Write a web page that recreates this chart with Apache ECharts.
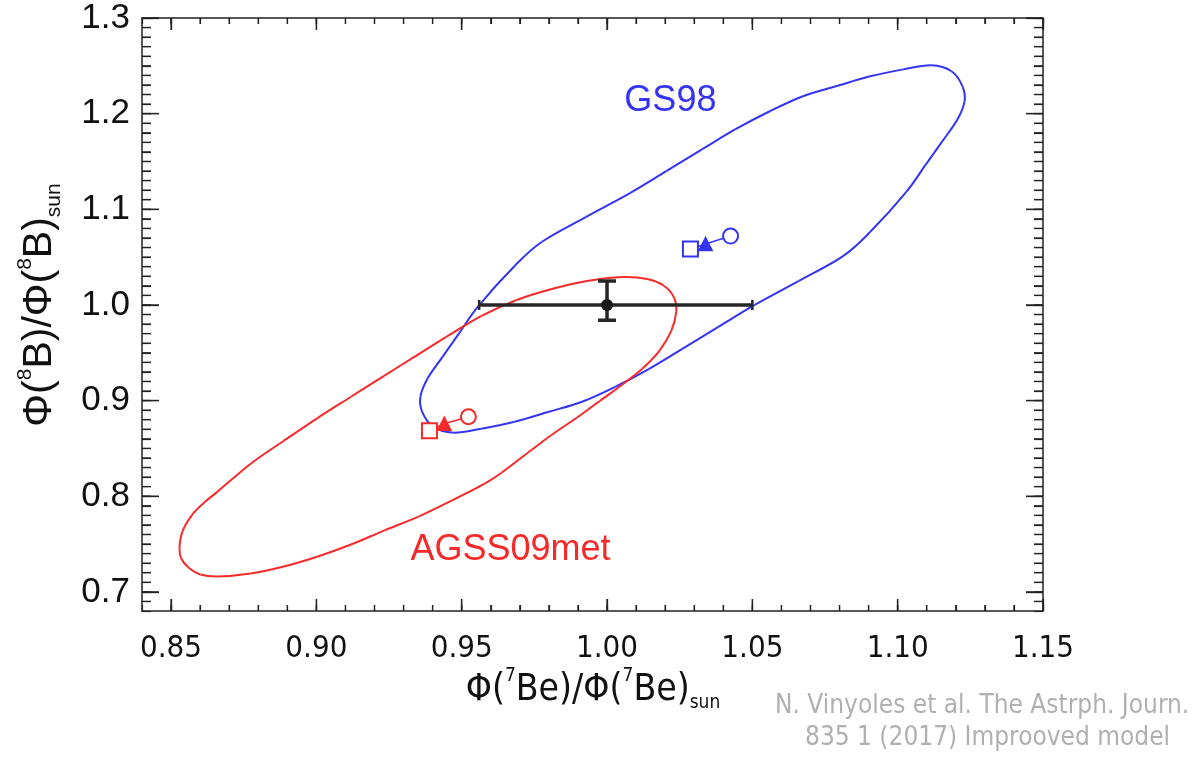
<!DOCTYPE html>
<html>
<head>
<meta charset="utf-8">
<script src="https://cdn.jsdelivr.net/npm/echarts@6/dist/echarts.min.js"></script>
<style>html,body{margin:0;padding:0;background:#fff}#c{width:1203px;height:759px}</style>
</head>
<body>
<div id="c"></div>
<script>
// ---- data ----
const xTicks = [0.85, 0.90, 0.95, 1.00, 1.05, 1.10, 1.15];
const yTicks = [0.7, 0.8, 0.9, 1.0, 1.1, 1.2, 1.3];
const minorStep = 0.01;

// GS98 contour (x = Phi(7Be)/sun, y = Phi(8B)/sun)
const gs98Contour = [
  [1.0508,1.0000],[1.0383,0.9770],[1.0259,0.9541],[1.0145,0.9332],[1.0028,0.9144],
  [0.9914,0.8988],[0.9800,0.8883],[0.9682,0.8779],[0.9568,0.8706],[0.9472,0.8664],
  [0.9402,0.8727],[0.9364,0.8883],[0.9358,0.9040],[0.9382,0.9228],[0.9434,0.9457],
  [0.9492,0.9708],[0.9558,0.9990],[0.9682,1.0407],[0.9775,1.0658],[0.9927,1.0919],
  [1.0079,1.1169],[1.0204,1.1399],[1.0328,1.1628],[1.0442,1.1837],[1.0560,1.2025],
  [1.0674,1.2182],[1.0788,1.2286],[1.0905,1.2390],[1.1019,1.2463],[1.1116,1.2505],
  [1.1185,1.2443],[1.1223,1.2286],[1.1230,1.2129],[1.1206,1.1942],[1.1154,1.1712],
  [1.1095,1.1461],[1.1029,1.1180],[1.0905,1.0762],[1.0812,1.0511],[1.0660,1.0251]
];
// AGSS09met contour
const agssContour = [
  [1.0052,1.0292],[1.0138,1.0271],[1.0197,1.0198],[1.0231,1.0073],[1.0238,0.9927],
  [1.0221,0.9729],[1.0180,0.9520],[1.0121,0.9332],[1.0052,0.9165],[0.9976,0.8998],
  [0.9896,0.8820],[0.9810,0.8643],[0.9741,0.8486],[0.9637,0.8246],[0.9579,0.8132],
  [0.9465,0.7954],[0.9351,0.7787],[0.9233,0.7641],[0.9119,0.7495],[0.9005,0.7370],
  [0.8888,0.7265],[0.8774,0.7192],[0.8660,0.7161],[0.8601,0.7182],[0.8560,0.7255],
  [0.8535,0.7349],[0.8529,0.7453],[0.8539,0.7630],[0.8573,0.7808],[0.8618,0.7944],
  [0.8660,0.8048],[0.8774,0.8340],[0.8888,0.8580],[0.9005,0.8820],[0.9119,0.9040],
  [0.9233,0.9259],[0.9326,0.9436],[0.9447,0.9666],[0.9568,0.9885],[0.9689,1.0052],
  [0.9810,1.0167],[0.9931,1.0251]
];

// model points: square, filled triangle, open circle
const gs98Models = [[1.0287,1.0585],[1.0339,1.0637],[1.0425,1.0720]];
const agssModels = [[0.9389,0.8685],[0.9440,0.8758],[0.9523,0.8831]];
const modelSymbols = ['emptyRect','triangle','emptyCircle'];

// observation with asymmetric errors
const obsX = [1.00], obsY = [1.00];
const obsXLow = [0.956], obsXHigh = [1.050];
const obsYLow = [0.984], obsYHigh = [1.025];

// text labels
const labelNames = ['GS98', 'AGSS09met'];
const labelPos = [[1.0218,1.2129],[0.9668,0.7432]];

const xMin = 0.84, xMax = 1.15, yMin = 0.68, yMax = 1.30;
// ---------------------------------------

const BLUE = '#3434f2', RED = '#f52a2a', AX = '#222', TXT = '#111';
const LABEL_COLORS = [BLUE, RED];
const narrow = "'Liberation Sans Narrow','DejaVu Sans Condensed','Liberation Sans',sans-serif";

function xAx(pos, major) {
  const o = {
    type: 'value', position: pos, min: xMin, max: xMax, interval: minorStep,
    axisLine: { show: !major, onZero: false, lineStyle: { color: AX, width: 1.5 } },
    axisTick: major
      ? { show: true, inside: true, length: 12, customValues: xTicks, lineStyle: { color: AX, width: 1.3 } }
      : { show: true, inside: true, length: 6, lineStyle: { color: AX, width: 1.2 } },
    axisLabel: { show: false },
    splitLine: { show: false }
  };
  if (pos === 'bottom' && !major) {
    o.axisLabel = { show: true, customValues: xTicks, margin: 22, fontFamily: narrow, fontSize: 31,
      color: TXT, formatter: v => v.toFixed(2) };
  }
  return o;
}
function yAx(pos, major) {
  const o = {
    type: 'value', position: pos, min: yMin, max: yMax, interval: minorStep,
    axisLine: { show: !major, onZero: false, lineStyle: { color: AX, width: 1.5 } },
    axisTick: major
      ? { show: true, inside: true, length: 17, customValues: yTicks, lineStyle: { color: AX, width: 1.3 } }
      : { show: true, inside: true, length: 9, lineStyle: { color: AX, width: 1.2 } },
    axisLabel: { show: false },
    splitLine: { show: false }
  };
  if (pos === 'left' && !major) {
    o.axisLabel = { show: true, customValues: yTicks, margin: 12, fontFamily: 'Liberation Sans', fontSize: 35,
      color: TXT, formatter: v => v.toFixed(1) };
  }
  return o;
}

// tick marks built with the axis scales (api.coord)
function buildTicks(api) {
  const kids = [];
  const nx = Math.round((xMax - xMin) / minorStep), ny = Math.round((yMax - yMin) / minorStep);
  const addX = (v, len) => {
    const b = api.coord([v, yMin]), t = api.coord([v, yMax]);
    kids.push({ type: 'line', shape: { x1: b[0], y1: b[1], x2: b[0], y2: b[1] - len }, style: { stroke: AX, lineWidth: 1.3 } });
    kids.push({ type: 'line', shape: { x1: t[0], y1: t[1], x2: t[0], y2: t[1] + len }, style: { stroke: AX, lineWidth: 1.3 } });
  };
  const addY = (v, len) => {
    const l = api.coord([xMin, v]), r = api.coord([xMax, v]);
    kids.push({ type: 'line', shape: { x1: l[0], y1: l[1], x2: l[0] + len, y2: l[1] }, style: { stroke: AX, lineWidth: 1.3 } });
    kids.push({ type: 'line', shape: { x1: r[0], y1: r[1], x2: r[0] - len, y2: r[1] }, style: { stroke: AX, lineWidth: 1.3 } });
  };
  for (let i = 1; i < nx; i++) addX(xMin + i * minorStep, 6);
  for (let i = 1; i < ny; i++) addY(yMin + i * minorStep, 9);
  xTicks.forEach(v => addX(v, 12));
  yTicks.forEach(v => addY(v, 17));
  return kids;
}

// closed Catmull-Rom spline through the contour points (pixel space, via api.coord)
function contourSeries(points, color) {
  return {
    type: 'custom', z: 3, silent: true,
    data: points,
    renderItem: function (params, api) {
      if (params.dataIndex !== 0) return null;
      const p = points.map(q => api.coord(q));
      const n = p.length, kids = [];
      for (let i = 0; i < n; i++) {
        const p0 = p[(i - 1 + n) % n], p1 = p[i], p2 = p[(i + 1) % n], p3 = p[(i + 2) % n];
        kids.push({ type: 'bezierCurve', shape: {
          x1: p1[0], y1: p1[1], x2: p2[0], y2: p2[1],
          cpx1: p1[0] + (p2[0] - p0[0]) / 6, cpy1: p1[1] + (p2[1] - p0[1]) / 6,
          cpx2: p2[0] - (p3[0] - p1[0]) / 6, cpy2: p2[1] - (p3[1] - p1[1]) / 6 },
          style: { stroke: color, lineWidth: 2, fill: null } });
      }
      return { type: 'group', children: kids };
    }
  };
}

function modelSeries(data, color) {
  return {
    type: 'line', z: 5, silent: true,
    data: data.map((p, i) => ({ value: p, symbol: modelSymbols[i], symbolSize: i === 1 ? 13 : 15 })),
    lineStyle: { color: color, width: 1.5 },
    itemStyle: { color: color, borderColor: color, borderWidth: 1.6 },
    showSymbol: true
  };
}

const xTitleRich = {
  t: { fontFamily: narrow, fontSize: 37, lineHeight: 46, fill: TXT, verticalAlign: 'middle' },
  sup: { fontFamily: narrow, fontSize: 19, lineHeight: 46, fill: TXT, verticalAlign: 'top' },
  sub: { fontFamily: narrow, fontSize: 19, lineHeight: 46, fill: TXT, verticalAlign: 'bottom' }
};
const yTitleRich = {
  t: { fontFamily: 'Liberation Sans', fontSize: 41, lineHeight: 50, fill: TXT, verticalAlign: 'middle' },
  sup: { fontFamily: 'Liberation Sans', fontSize: 21, lineHeight: 50, fill: TXT, verticalAlign: 'top' },
  sub: { fontFamily: 'Liberation Sans', fontSize: 21, lineHeight: 50, fill: TXT, verticalAlign: 'bottom' }
};

const chart = echarts.init(document.getElementById('c'));
chart.setOption({
  animation: false,
  grid: { left: 142, right: 160, top: 18, bottom: 148 },
  xAxis: [xAx('bottom', false), xAx('bottom', true), xAx('top', false), xAx('top', true)],
  yAxis: [yAx('left', false), yAx('left', true), yAx('right', false), yAx('right', true)],
  series: [
    contourSeries(gs98Contour, BLUE),
    contourSeries(agssContour, RED),
    { type: 'custom', z: 7, silent: true,
      data: labelPos.map((p, i) => [p[0], p[1], i]),
      renderItem: function (params, api) {
        const c = api.coord([api.value(0), api.value(1)]);
        const i = api.value(2);
        return { type: 'text', x: c[0], y: c[1], style: { text: labelNames[i], fill: LABEL_COLORS[i],
          fontFamily: 'Liberation Sans', fontSize: 36, align: 'center', verticalAlign: 'middle' } };
      }
    },
    { type: 'custom', z: 6, silent: true,
      data: obsX.map((x, i) => [x, obsY[i], obsXLow[i], obsXHigh[i], obsYLow[i], obsYHigh[i]]),
      renderItem: function (params, api) {
        const c = api.coord([api.value(0), api.value(1)]);
        const l = api.coord([api.value(2), api.value(1)]);
        const r = api.coord([api.value(3), api.value(1)]);
        const b = api.coord([api.value(0), api.value(4)]);
        const t = api.coord([api.value(0), api.value(5)]);
        const st = { stroke: '#262626', lineWidth: 3.5 };
        const cap = { stroke: '#262626', lineWidth: 2.5 };
        const kids = [
          { type: 'line', shape: { x1: l[0], y1: l[1], x2: r[0], y2: r[1] }, style: st },
          { type: 'line', shape: { x1: l[0], y1: l[1] - 5, x2: l[0], y2: l[1] + 5 }, style: cap },
          { type: 'line', shape: { x1: r[0], y1: r[1] - 5, x2: r[0], y2: r[1] + 5 }, style: cap },
          { type: 'line', shape: { x1: c[0], y1: b[1], x2: c[0], y2: t[1] }, style: st },
          { type: 'line', shape: { x1: c[0] - 9, y1: t[1], x2: c[0] + 9, y2: t[1] }, style: st },
          { type: 'line', shape: { x1: c[0] - 9, y1: b[1], x2: c[0] + 9, y2: b[1] }, style: st },
          { type: 'circle', shape: { cx: c[0], cy: c[1], r: 6 }, style: { fill: '#1a1a1a' } }
        ];
        if (params.dataIndex === 0) {
          try { buildTicks(api).forEach(k => kids.push(k)); } catch (e) {}
        }
        return { type: 'group', children: kids };
      }
    },
    modelSeries(gs98Models, BLUE),
    modelSeries(agssModels, RED)
  ]
});
chart.setOption({
  graphic: [
    { type: 'text', x: 593, y: 690, silent: true,
      style: { text: '{t|Φ(}{sup|7}{t|Be)/Φ(}{sup|7}{t|Be)}{sub|sun}', rich: xTitleRich,
        align: 'center', verticalAlign: 'middle' } },
    { type: 'text', x: 40, y: 305, rotation: Math.PI / 2, silent: true,
      style: { text: '{t|Φ(}{sup|8}{t|B)/Φ(}{sup|8}{t|B)}{sub|sun}', rich: yTitleRich,
        align: 'center', verticalAlign: 'middle' } },
    { type: 'text', left: 775, top: 693, silent: true,
      style: { text: 'N. Vinyoles et al. The Astrph. Journ.', fontFamily: narrow, fontSize: 26, fill: '#b0b0b0' } },
    { type: 'text', left: 805, top: 725, silent: true,
      style: { text: '835 1 (2017) Improoved model', fontFamily: narrow, fontSize: 26, fill: '#b0b0b0' } }
  ]
});
</script>
</body>
</html>
